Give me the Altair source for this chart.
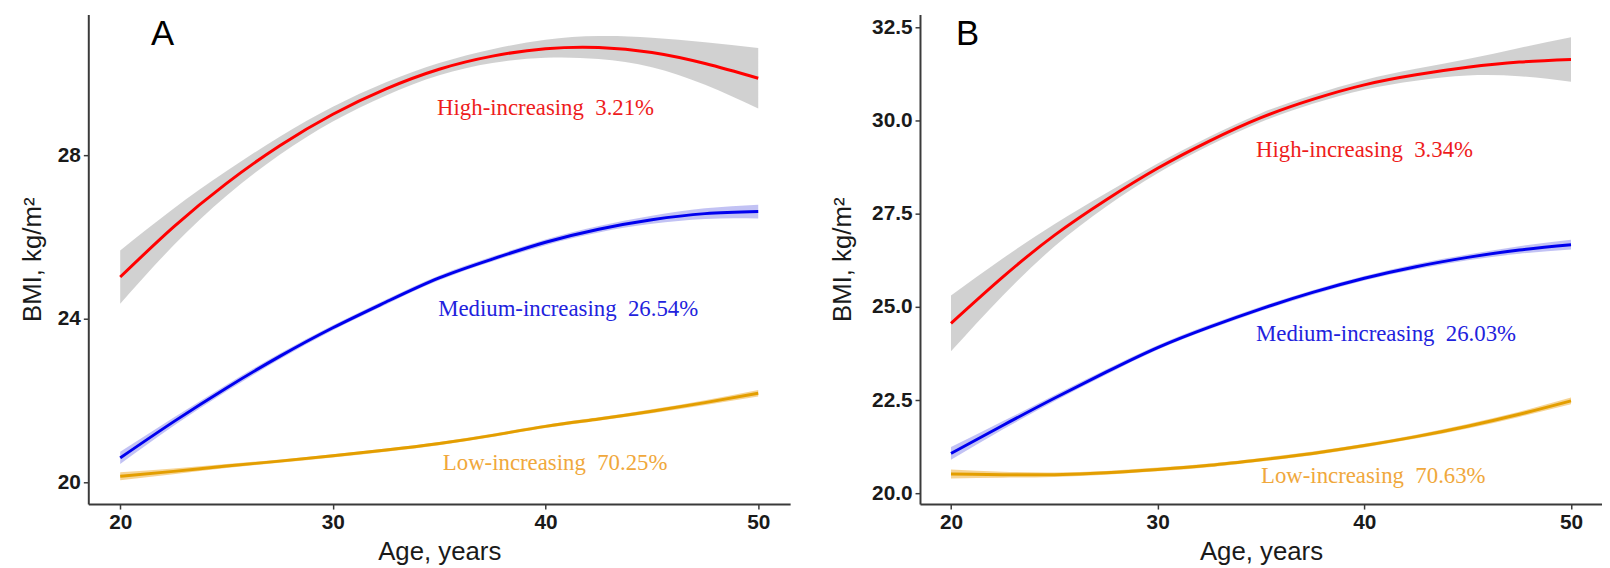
import altair as alt
import pandas as pd

ages = [20, 22.5, 25, 27.5, 30, 32.5, 35, 37.5, 40, 42.5, 45, 47.5, 50]

groups = ["High-increasing", "Medium-increasing", "Low-increasing"]
line_colors = ["#FF0000", "#0000EE", "#E39E00"]
band_colors = ["#BDBDBD", "#A8A8F0", "#F2C266"]
text_colors = ["#EE1C1C", "#2222DD", "#F0A83C"]

# Panel A
red_A = [25.02, 26.24, 27.31, 28.23, 29.00, 29.62, 30.10, 30.42, 30.60, 30.63, 30.51, 30.24, 29.88]
red_A_hw = [0.65, 0.45, 0.30, 0.22, 0.18, 0.16, 0.15, 0.17, 0.22, 0.28, 0.36, 0.52, 0.74]
blue_A = [20.60, 21.48, 22.31, 23.08, 23.78, 24.41, 25.00, 25.46, 25.87, 26.19, 26.42, 26.57, 26.62]
blue_A_hw = [0.15, 0.10, 0.08, 0.07, 0.06, 0.06, 0.06, 0.06, 0.07, 0.08, 0.10, 0.13, 0.17]
orange_A = [20.15, 20.27, 20.40, 20.52, 20.65, 20.79, 20.95, 21.15, 21.37, 21.55, 21.74, 21.95, 22.18]
orange_A_hw = [0.10, 0.07, 0.05, 0.04, 0.04, 0.04, 0.04, 0.04, 0.04, 0.04, 0.05, 0.06, 0.08]
labels_A = ["High-increasing\u00a0 3.21%", "Medium-increasing\u00a0 26.54%", "Low-increasing\u00a0 70.25%"]
label_x_A = [34.90, 34.95, 35.17]
label_y_A = [29.14, 24.24, 20.48]

# Panel B
red_B = [24.56, 25.80, 26.92, 27.87, 28.72, 29.45, 30.08, 30.57, 30.96, 31.23, 31.43, 31.57, 31.64]
red_B_hw = [0.75, 0.50, 0.30, 0.18, 0.13, 0.12, 0.12, 0.12, 0.13, 0.16, 0.22, 0.38, 0.60]
blue_B = [21.07, 21.82, 22.55, 23.25, 23.91, 24.46, 24.95, 25.39, 25.77, 26.08, 26.33, 26.53, 26.67]
blue_B_hw = [0.17, 0.11, 0.08, 0.07, 0.06, 0.06, 0.06, 0.06, 0.06, 0.07, 0.08, 0.10, 0.13]
orange_B = [20.52, 20.50, 20.50, 20.55, 20.64, 20.75, 20.90, 21.07, 21.28, 21.52, 21.80, 22.12, 22.48]
orange_B_hw = [0.12, 0.08, 0.06, 0.05, 0.05, 0.05, 0.05, 0.05, 0.05, 0.05, 0.06, 0.07, 0.09]
labels_B = ["High-increasing\u00a0 3.34%", "Medium-increasing\u00a0 26.03%", "Low-increasing\u00a0 70.63%"]
label_x_B = [34.76, 34.76, 35.00]
label_y_B = [29.22, 24.27, 20.46]

x_domain = [18.5, 51.5]
x_ticks = [20, 30, 40, 50]


def panel(series, hws, labels, lx, ly, letter, letter_xy, y_domain, y_ticks, y_fmt,
          width, title_pad):
    rows = []
    for g, s, hw in zip(groups, series, hws):
        for a, v, h in zip(ages, s, hw):
            rows.append({"group": g, "age": a, "bmi": v, "lo": v - h, "hi": v + h})
    df = pd.DataFrame(rows)
    lab = pd.DataFrame({"group": groups, "text": labels, "x": lx, "y": ly})
    let = pd.DataFrame({"text": [letter], "x": [letter_xy[0]], "y": [letter_xy[1]]})

    xs = alt.Scale(domain=x_domain, nice=False, zero=False)
    ys = alt.Scale(domain=y_domain, nice=False, zero=False)
    xaxis = alt.Axis(values=x_ticks, title="Age, years", titlePadding=6)
    yaxis = alt.Axis(values=y_ticks, format=y_fmt, title="BMI, kg/m\u00b2",
                     titlePadding=title_pad)
    tcol = alt.Color("group:N", scale=alt.Scale(domain=groups, range=text_colors), legend=None)
    lcol = alt.Color("group:N", scale=alt.Scale(domain=groups, range=line_colors), legend=None)
    bcol = alt.Color("group:N", scale=alt.Scale(domain=groups, range=band_colors), legend=None)

    band = alt.Chart(df).mark_area(interpolate="natural", opacity=0.7).encode(
        x=alt.X("age:Q", scale=xs, axis=xaxis),
        y=alt.Y("lo:Q", scale=ys, axis=yaxis),
        y2="hi:Q",
        color=bcol,
    )
    lines = alt.Chart(df).mark_line(interpolate="natural", strokeWidth=3).encode(
        x=alt.X("age:Q", scale=xs, axis=xaxis),
        y=alt.Y("bmi:Q", scale=ys, axis=yaxis),
        color=lcol,
    )
    texts = alt.Chart(lab).mark_text(font="Liberation Serif", fontSize=23, align="left",
                                     baseline="middle").encode(
        x=alt.X("x:Q", scale=xs, axis=xaxis),
        y=alt.Y("y:Q", scale=ys, axis=yaxis),
        text="text:N",
        color=tcol,
    )
    letter_mark = alt.Chart(let).mark_text(font="Liberation Sans", fontSize=35, align="left",
                                           baseline="alphabetic", color="#000000").encode(
        x=alt.X("x:Q", scale=xs, axis=xaxis),
        y=alt.Y("y:Q", scale=ys, axis=yaxis),
        text="text:N",
    )
    return alt.layer(band, lines, texts, letter_mark).resolve_scale(color="independent").properties(
        width=width, height=494)


pA = panel([red_A, blue_A, orange_A], [red_A_hw, blue_A_hw, orange_A_hw], labels_A,
           label_x_A, label_y_A, "A", (21.45, 30.69), [19.47, 31.44], [20, 24, 28], "d",
           708, 12)
pB = panel([red_B, blue_B, orange_B], [red_B_hw, blue_B_hw, orange_B_hw], labels_B,
           label_x_B, label_y_B, "B", (20.24, 32.02), [19.71, 32.85],
           [20, 22.5, 25, 27.5, 30, 32.5], ".1f", 688, 16)

chart = alt.hconcat(pA, pB, spacing=40).properties(
    padding={"left": 11, "top": 4, "right": 0, "bottom": 0}
).configure_view(stroke=None).configure_axis(
    grid=False,
    domainColor="#3a3a3a",
    domainWidth=2,
    tickColor="#3a3a3a",
    tickWidth=1.5,
    tickSize=5,
    labelFont="Liberation Sans",
    labelFontWeight="bold",
    labelFontSize=21,
    labelColor="#1a1a1a",
    labelPadding=3,
    titleFont="Liberation Sans",
    titleFontSize=26,
    titleFontWeight="normal",
    titleColor="#1a1a1a",
)

chart.save("out.html", embed_options={"renderer": "svg", "actions": False})
